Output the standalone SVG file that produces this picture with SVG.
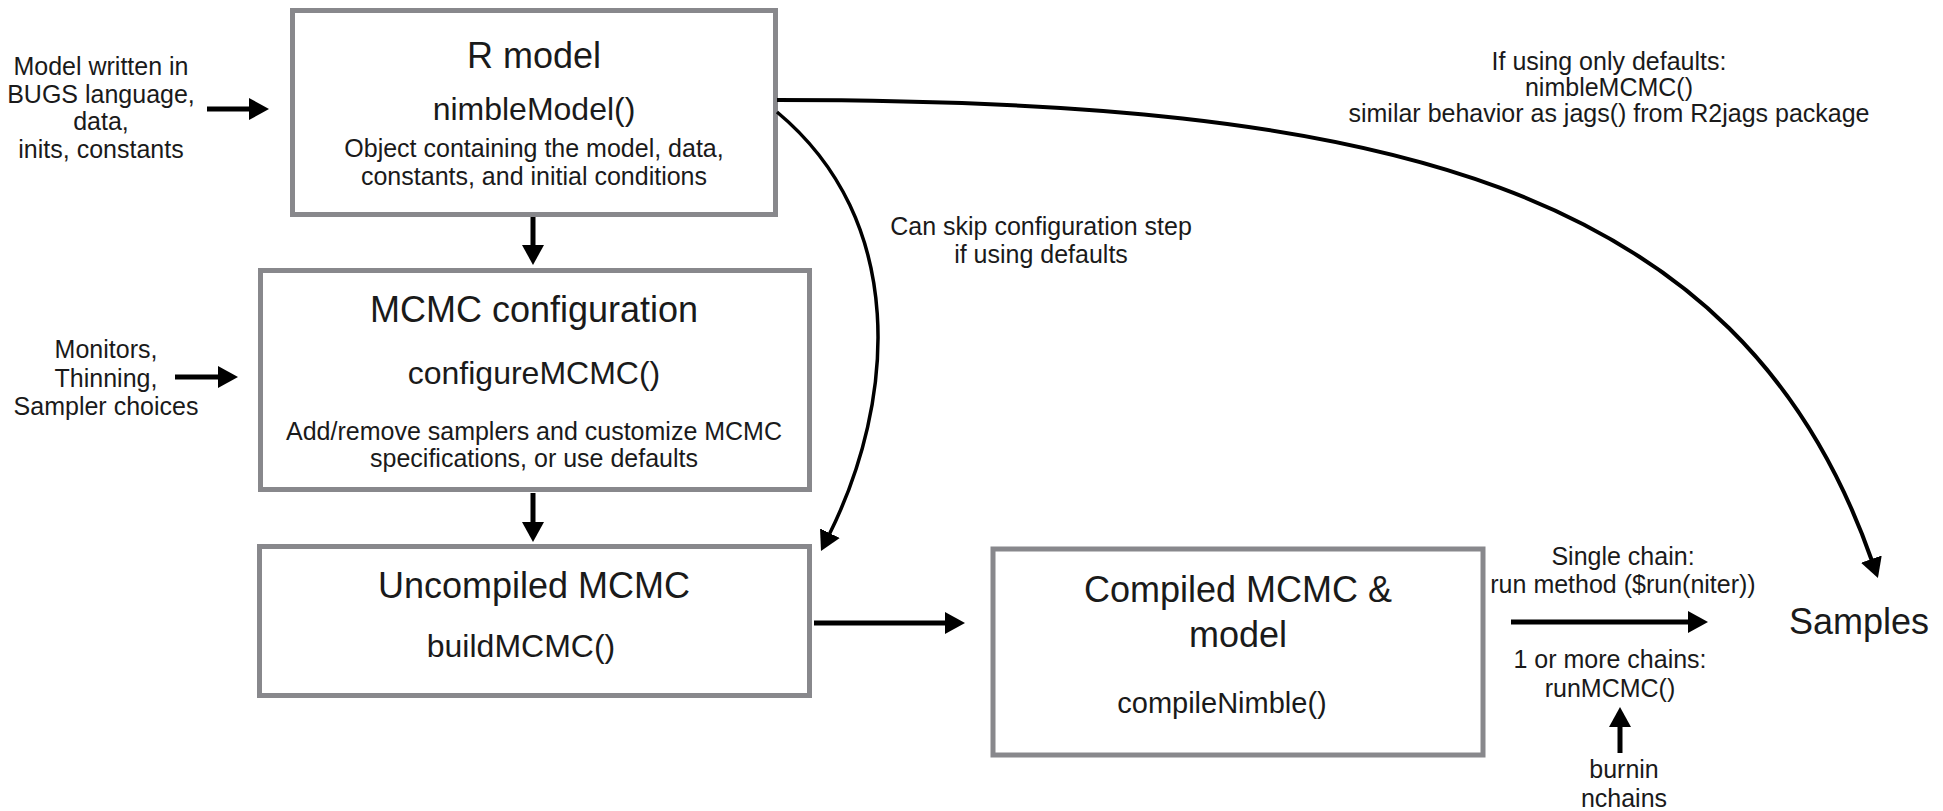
<svg xmlns="http://www.w3.org/2000/svg" width="1943" height="811" viewBox="0 0 1943 811">
<style>
  text { font-family: "Liberation Sans", Arial, sans-serif; fill: #1a1a1a; text-anchor: middle; }
  .title { font-size: 36px; }
  .fn { font-size: 32px; }
  .sm { font-size: 25px; }
  .box { fill: #fff; stroke: #88888c; stroke-width: 5; }
  .arr { fill: none; stroke: #000; stroke-width: 5; }
  .crv { fill: none; stroke: #000; stroke-width: 3.5; }
</style>
<defs>
  <marker id="ah" viewBox="0 0 20 22" refX="2" refY="11" markerWidth="20" markerHeight="22" markerUnits="userSpaceOnUse" orient="auto">
    <path d="M0,0 L20,11 L0,22 z" fill="#000"/>
  </marker>
</defs>
<rect width="1943" height="811" fill="#fff"/>

<g id="r-model">
  <rect class="box" x="292.5" y="10.5" width="483" height="204"/>
  <text class="title" x="534" y="68">R model</text>
  <text class="fn" x="534" y="120">nimbleModel()</text>
  <text class="sm" x="534" y="157">Object containing the model, data,</text>
  <text class="sm" x="534" y="185">constants, and initial conditions</text>
</g>

<g id="mcmc-configuration">
  <rect class="box" x="260.5" y="270.5" width="549" height="219"/>
  <text class="title" x="534" y="322">MCMC configuration</text>
  <text class="fn" x="534" y="384">configureMCMC()</text>
  <text class="sm" x="534" y="440">Add/remove samplers and customize MCMC</text>
  <text class="sm" x="534" y="467">specifications, or use defaults</text>
</g>

<g id="uncompiled-mcmc">
  <rect class="box" x="259.5" y="546.5" width="550" height="149"/>
  <text class="title" x="534" y="598">Uncompiled MCMC</text>
  <text class="fn" x="521" y="657">buildMCMC()</text>
</g>

<g id="compiled-mcmc">
  <rect class="box" x="993" y="549" width="490" height="206"/>
  <text class="title" x="1238" y="602">Compiled MCMC &amp;</text>
  <text class="title" x="1238" y="647">model</text>
  <text class="fn" style="font-size:29px" x="1222" y="713">compileNimble()</text>
</g>

<g id="samples">
  <text style="font-size:36px;text-anchor:start" x="1789" y="634">Samples</text>
</g>

<g id="input-model">
  <text class="sm" x="101" y="75">Model written in</text>
  <text class="sm" x="101" y="103">BUGS language,</text>
  <text class="sm" x="101" y="130">data,</text>
  <text class="sm" x="101" y="158">inits, constants</text>
</g>

<g id="input-config">
  <text class="sm" x="106" y="358">Monitors,</text>
  <text class="sm" x="106" y="387">Thinning,</text>
  <text class="sm" x="106" y="415">Sampler choices</text>
</g>

<g id="input-run">
  <text class="sm" x="1624" y="778">burnin</text>
  <text class="sm" x="1624" y="807">nchains</text>
</g>

<g id="connectors">
  <line class="arr" x1="207" y1="109" x2="251" y2="109" marker-end="url(#ah)"/>
  <line class="arr" x1="175" y1="377" x2="220" y2="377" marker-end="url(#ah)"/>
  <line class="arr" x1="533" y1="217" x2="533" y2="247" marker-end="url(#ah)"/>
  <line class="arr" x1="533" y1="493" x2="533" y2="524" marker-end="url(#ah)"/>
  <line class="arr" x1="814" y1="623" x2="947" y2="623" marker-end="url(#ah)"/>
  <line class="arr" x1="1511" y1="622" x2="1690" y2="622" marker-end="url(#ah)"/>
  <line class="arr" x1="1620" y1="753" x2="1620" y2="725" marker-end="url(#ah)"/>
  <path class="crv" d="M777,112 C908,221 896,400 829,535" marker-end="url(#ah)"/>
  <path class="crv" style="stroke-width:4" d="M777,100 C1377,100 1739,180 1872,561" marker-end="url(#ah)"/>
</g>

<g id="labels">
  <text class="sm" x="1041" y="235">Can skip configuration step</text>
  <text class="sm" x="1041" y="263">if using defaults</text>
  <text class="sm" x="1609" y="70">If using only defaults:</text>
  <text class="sm" x="1609" y="96">nimbleMCMC()</text>
  <text class="sm" x="1609" y="122">similar behavior as jags() from R2jags package</text>
  <text class="sm" x="1623" y="565">Single chain:</text>
  <text class="sm" x="1623" y="593">run method ($run(niter))</text>
  <text class="sm" x="1610" y="668">1 or more chains:</text>
  <text class="sm" x="1610" y="697">runMCMC()</text>
</g>
</svg>
